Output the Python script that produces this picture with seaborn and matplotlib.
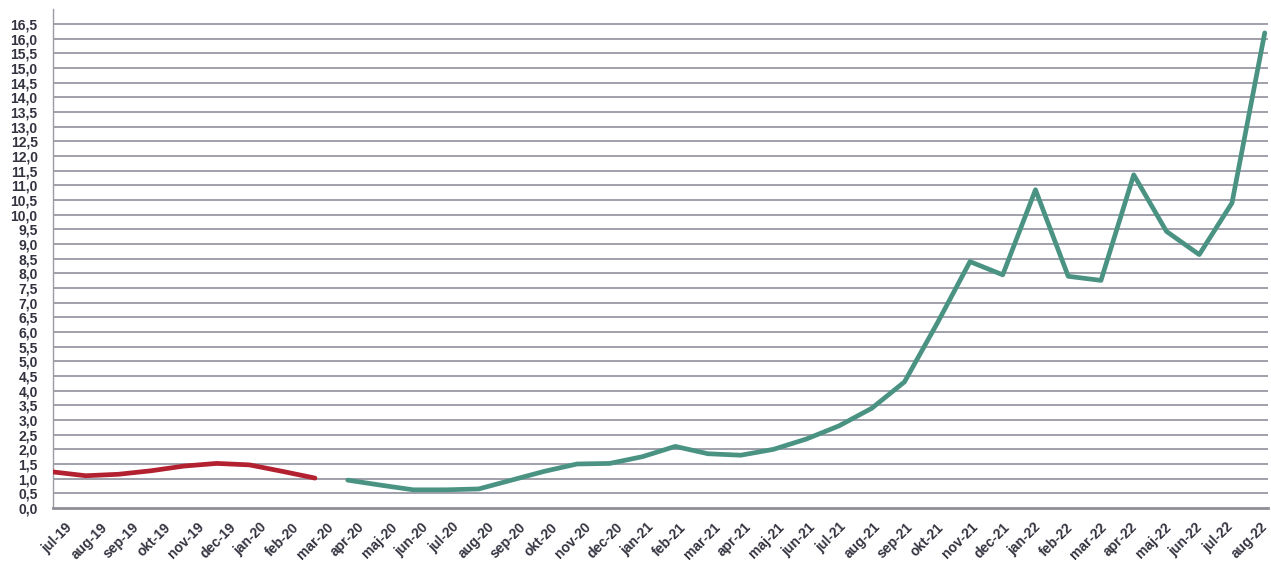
import matplotlib
matplotlib.use("Agg")
import matplotlib.pyplot as plt
import matplotlib.transforms as mtransforms
import seaborn as sns
import numpy as np
import pandas as pd

months = ["jul-19", "aug-19", "sep-19", "okt-19", "nov-19", "dec-19", "jan-20", "feb-20", "mar-20",
          "apr-20", "maj-20", "jun-20", "jul-20", "aug-20", "sep-20", "okt-20", "nov-20", "dec-20",
          "jan-21", "feb-21", "mar-21", "apr-21", "maj-21", "jun-21", "jul-21", "aug-21", "sep-21",
          "okt-21", "nov-21", "dec-21", "jan-22", "feb-22", "mar-22", "apr-22", "maj-22", "jun-22",
          "jul-22", "aug-22"]

red_months = months[:9]
red_values = [1.23, 1.1, 1.15, 1.27, 1.43, 1.52, 1.47, 1.25, 1.02]

green_months = months[9:]
green_values = [0.95, 0.78, 0.62, 0.62, 0.65, 0.95, 1.25, 1.5, 1.52, 1.75, 2.1, 1.85, 1.8,
                2.0, 2.35, 2.8, 3.4, 4.3, 6.3, 8.4, 7.95, 10.85, 7.9, 7.76, 11.36, 9.43,
                8.64, 10.4, 16.2]

y_ticks = np.arange(0, 16.51, 0.5)
y_tick_labels = [f"{v:.1f}".replace(".", ",") for v in y_ticks]

pos = {m: i for i, m in enumerate(months)}
df = pd.concat([
    pd.DataFrame({"x": [pos[m] for m in red_months], "value": red_values, "serie": "a"}),
    pd.DataFrame({"x": [pos[m] for m in green_months], "value": green_values, "serie": "b"}),
], ignore_index=True)

sns.set_style("white")
plt.rcParams["font.family"] = ["Liberation Sans", "DejaVu Sans"]

fig = plt.figure(figsize=(12.71, 5.65), dpi=100)
ax = fig.add_axes([53 / 1271, 57 / 565, (1268 - 53) / 1271, (508 - 9.4) / 565])

ax.set_axisbelow(True)
for v in y_ticks[1:]:
    ax.axhline(v, color="#a0a0aa", lw=1.4, zorder=0)

sns.lineplot(data=df, x="x", y="value", hue="serie", palette={"a": "#b3202f", "b": "#4a9383"},
             linewidth=3.4, legend=False, ax=ax, zorder=3)

ax.set_xlim(0, 37.1)
ax.set_ylim(0, 17)
ax.set_yticks(y_ticks)
ax.set_yticklabels(y_tick_labels, fontsize=10, fontweight="bold", color="#333340")
ax.set_xticks(range(len(months)))
ax.set_xticklabels([])
ax.set_xlabel("")
ax.set_ylabel("")

base = ax.get_xaxis_transform()
n = len(months)
for i, m in enumerate(months):
    shift = 4 - 19 * i / (n - 1)
    off = mtransforms.ScaledTranslation(shift / 100, -12 / 100, fig.dpi_scale_trans)
    ax.text(i, 0, m, transform=base + off, rotation=45, ha="center", va="top",
            fontsize=10, fontweight="bold", color="#333340")

ax.tick_params(axis="y", length=0, pad=11)
ax.tick_params(axis="x", length=0)

for s in ["top", "right"]:
    ax.spines[s].set_visible(False)
ax.spines["left"].set_color("#9c9ca6")
ax.spines["left"].set_linewidth(1.0)
ax.spines["bottom"].set_color("#8e8e98")
ax.spines["bottom"].set_linewidth(2.0)

fig.savefig("out.png", dpi=100)
